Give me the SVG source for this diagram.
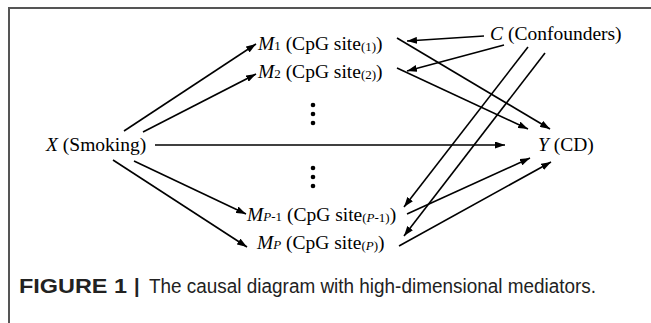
<svg xmlns="http://www.w3.org/2000/svg" width="651" height="323" viewBox="0 0 651 323">
  <defs>
    <marker id="arrow" markerUnits="userSpaceOnUse" markerWidth="10" markerHeight="7" refX="10" refY="3.5" orient="auto">
      <path d="M0,0 L10,3.5 L0,7 z" fill="#000"/>
    </marker>
    <style>
      .lbl { font-family: "Liberation Serif", "Times New Roman", serif; font-size: 19.5px; fill: #000; }
      .it { font-style: italic; }
      .sub { font-size: 13px; }
      .edge { stroke: #000; stroke-width: 1.6; fill: none; marker-end: url(#arrow); }
      .frame { stroke: #555; stroke-width: 2; fill: none; }
      .cap { font-family: "Liberation Sans", Arial, sans-serif; font-size: 20px; fill: #222; }
      .dot { fill: #000; }
    </style>
  </defs>

  <rect width="651" height="323" fill="#fff"/>

  <!-- figure frame (top and left rules) -->
  <path class="frame" d="M9,323 V8 H651"/>

  <!-- connectors -->
  <g id="connectors">
    <line class="edge" x1="124" y1="131" x2="256" y2="44"/>
    <line class="edge" x1="143" y1="132" x2="256" y2="74"/>
    <line class="edge" x1="155" y1="145" x2="505" y2="145"/>
    <line class="edge" x1="134" y1="161" x2="246" y2="214"/>
    <line class="edge" x1="113" y1="160" x2="247" y2="247"/>
    <line class="edge" x1="397" y1="38" x2="550" y2="129"/>
    <line class="edge" x1="397" y1="68" x2="528" y2="129"/>
    <line class="edge" x1="484" y1="36" x2="407" y2="41"/>
    <line class="edge" x1="504" y1="45" x2="407" y2="71"/>
    <line class="edge" x1="528" y1="47" x2="404" y2="207"/>
    <line class="edge" x1="545" y1="53" x2="404" y2="236"/>
    <line class="edge" x1="407" y1="214" x2="530" y2="158"/>
    <line class="edge" x1="399" y1="246" x2="551" y2="162"/>
  </g>

  <!-- nodes -->
  <g id="node-m1">
    <text class="lbl" x="258" y="50"><tspan class="it">M</tspan><tspan class="sub">1</tspan> (CpG site<tspan class="sub" dy="1">(1)</tspan><tspan dy="-1">)</tspan></text>
  </g>
  <g id="node-m2">
    <text class="lbl" x="258" y="78"><tspan class="it">M</tspan><tspan class="sub">2</tspan> (CpG site<tspan class="sub" dy="1">(2)</tspan><tspan dy="-1">)</tspan></text>
  </g>
  <g id="node-c">
    <text class="lbl" x="490" y="40"><tspan class="it">C</tspan> (Confounders)</text>
  </g>
  <g id="node-x">
    <text class="lbl" x="46" y="151"><tspan class="it">X</tspan> (Smoking)</text>
  </g>
  <g id="node-y">
    <text class="lbl" x="538" y="151"><tspan class="it">Y</tspan> (CD)</text>
  </g>
  <g id="node-mp1">
    <text class="lbl" x="247" y="221"><tspan class="it">M</tspan><tspan class="sub"><tspan class="it">P</tspan>-1</tspan> (CpG site<tspan class="sub" dy="1">(<tspan class="it">P</tspan>-1)</tspan><tspan dy="-1">)</tspan></text>
  </g>
  <g id="node-mp">
    <text class="lbl" x="257" y="249"><tspan class="it">M</tspan><tspan class="sub it">P</tspan> (CpG site<tspan class="sub" dy="1">(<tspan class="it">P</tspan>)</tspan><tspan dy="-1">)</tspan></text>
  </g>

  <!-- vertical ellipses -->
  <g id="ellipsis-upper">
    <circle class="dot" cx="313" cy="105" r="2.3"/>
    <circle class="dot" cx="313" cy="114" r="2.3"/>
    <circle class="dot" cx="313" cy="123" r="2.3"/>
  </g>
  <g id="ellipsis-lower">
    <circle class="dot" cx="313" cy="168" r="2.3"/>
    <circle class="dot" cx="313" cy="177" r="2.3"/>
    <circle class="dot" cx="313" cy="186" r="2.3"/>
  </g>

  <!-- caption -->
  <text class="cap" x="19" y="293" font-weight="bold" textLength="108" lengthAdjust="spacingAndGlyphs">FIGURE 1</text>
  <text class="cap" x="134" y="293" font-weight="bold">|</text>
  <text class="cap" x="149" y="293" textLength="447" lengthAdjust="spacingAndGlyphs">The causal diagram with high-dimensional mediators.</text>
</svg>
